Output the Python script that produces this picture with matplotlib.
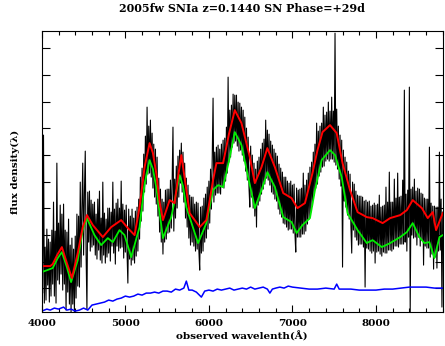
import matplotlib
matplotlib.use('Agg')
import matplotlib.pyplot as plt
import matplotlib.ticker as ticker
import numpy as np

# observed spectrum, 10 A steps from 4000 to 8800 (one row = 100 A)
obs_wave = np.arange(4000, 8801, 10)
obs_flux = [
    7.6, 1.9, 17.7, 0.9, 6.5, 1.2, 8.3, 2.7, 7.3, 1.0,
    7.0, 1.6, 8.2, 2.8, 11.0, 1.6, 8.1, 0.9, 14.9, 3.2,
    8.9, 2.8, 10.7, 3.8, 9.8, 2.2, 10.8, 2.8, 8.2, 0.2,
    8.0, 2.0, 9.3, 0.8, 6.7, 0.0, 7.4, 0.8, 6.3, 0.0,
    7.6, 1.4, 9.8, 2.6, 9.6, 2.5, 13.0, 4.5, 10.5, 14.9,
    5.7, 11.9, 16.1, 5.7, 0.3, 12.0, 7.0, 12.1, 6.1, 11.2,
    6.5, 10.8, 6.7, 11.0, 5.7, 9.8, 5.3, 11.3, 6.2, 12.1,
    5.2, 9.4, 4.9, 13.0, 5.7, 9.9, 4.9, 9.3, 5.5, 10.4,
    5.9, 10.4, 5.1, 10.0, 6.6, 13.0, 5.9, 10.3, 4.8, 10.9,
    6.6, 11.3, 6.1, 10.4, 6.4, 13.1, 6.5, 10.8, 5.4, 10.2,
    6.0, 10.7, 6.0, 2.9, 10.3, 5.3, 9.6, 4.7, 10.3, 5.2,
    9.4, 4.9, 10.1, 5.6, 10.5, 6.1, 11.3, 7.3, 13.5, 9.1,
    14.4, 10.1, 15.8, 12.0, 17.6, 12.8, 20.5, 13.8, 18.6, 13.9,
    19.2, 13.5, 17.9, 12.4, 16.8, 11.5, 16.3, 10.8, 15.5, 9.6,
    13.4, 8.0, 12.3, 7.0, 11.3, 5.8, 11.0, 7.0, 12.2, 7.3,
    12.3, 7.9, 12.3, 8.0, 13.2, 8.4, 13.0, 18.5, 8.1, 13.3,
    9.4, 14.6, 10.4, 15.6, 11.5, 16.2, 12.9, 16.9, 12.0, 16.0,
    11.0, 14.9, 9.4, 13.4, 8.5, 12.7, 7.4, 11.7, 6.7, 11.5,
    7.0, 11.5, 6.6, 10.8, 6.1, 11.0, 6.3, 10.9, 6.2, 4.2,
    10.5, 5.9, 10.6, 6.1, 11.4, 7.0, 11.8, 7.4, 12.5, 8.3,
    13.1, 8.9, 14.3, 10.3, 15.4, 21.4, 11.0, 16.0, 11.7, 16.5,
    11.9, 16.7, 11.9, 16.3, 11.8, 16.8, 12.5, 17.2, 12.4, 17.4,
    13.1, 18.5, 13.9, 23.5, 15.0, 20.2, 15.5, 20.7, 16.5, 21.8,
    16.9, 21.7, 17.1, 21.7, 16.6, 21.0, 16.1, 20.9, 16.2, 20.5,
    15.7, 20.2, 15.1, 19.5, 14.1, 18.4, 13.2, 17.5, 12.5, 10.5,
    16.6, 11.5, 15.7, 10.4, 14.9, 9.6, 14.3, 8.5, 15.1, 10.7,
    15.5, 11.1, 16.3, 11.8, 16.9, 12.3, 17.3, 12.8, 19.2, 13.4,
    18.2, 13.2, 17.8, 12.7, 17.1, 12.0, 16.7, 11.8, 16.3, 11.3,
    15.9, 11.1, 15.6, 10.3, 14.8, 9.8, 14.4, 9.5, 14.0, 8.9,
    13.5, 8.8, 13.5, 8.5, 13.1, 8.2, 12.9, 8.3, 13.1, 8.3,
    12.7, 7.9, 12.8, 7.9, 6.0, 12.4, 7.5, 12.2, 7.5, 12.3,
    7.5, 12.4, 7.8, 13.9, 7.8, 12.7, 8.1, 13.2, 8.8, 13.9,
    9.3, 14.5, 10.0, 15.0, 10.6, 16.0, 11.7, 16.8, 12.4, 18.9,
    12.8, 18.1, 13.6, 18.6, 14.0, 18.9, 14.5, 20.5, 14.6, 19.7,
    15.1, 20.0, 15.3, 21.0, 15.1, 20.1, 15.3, 21.5, 15.3, 20.1,
    15.0, 27.9, 14.7, 20.3, 14.3, 18.6, 13.3, 17.7, 12.6, 17.2,
    4.5, 16.2, 11.1, 15.5, 10.5, 15.0, 9.7, 14.1, 9.3, 13.8,
    8.7, 5.9, 13.0, 8.2, 12.8, 7.5, 12.1, 7.2, 11.7, 6.7,
    11.6, 6.8, 11.6, 6.8, 11.5, 6.5, 11.1, 2.5, 11.2, 6.4,
    11.0, 6.3, 11.1, 6.1, 10.6, 5.9, 10.7, 6.1, 10.9, 4.9,
    10.7, 6.0, 10.8, 6.1, 11.7, 5.8, 10.5, 5.6, 10.6, 6.0,
    10.7, 5.9, 12.5, 5.9, 11.0, 6.2, 14.0, 6.2, 11.0, 6.1,
    11.0, 6.3, 13.3, 6.6, 11.4, 6.6, 13.9, 6.5, 11.5, 6.8,
    11.6, 6.8, 13.2, 6.8, 22.2, 7.0, 11.8, 6.1, 12.2, 7.5,
    22.5, 0.0, 12.3, 7.7, 12.5, 7.4, 13.3, 7.5, 12.1, 6.7,
    12.4, 7.5, 12.3, 6.6, 11.9, 7.2, 11.8, 4.7, 11.4, 6.6,
    11.3, 6.4, 11.3, 6.4, 16.5, 5.5, 10.9, 5.8, 10.6, 4.3,
    10.6, 5.5, 10.5, 4.4, 10.5, 6.1, 16.0, 6.2, 11.3, 0.5,
    10.0,
]

# template fit (red)
fit_wave = [4000, 4100, 4130, 4190, 4240, 4300, 4360, 4430, 4490, 4540, 4610,
            4730, 4830, 4950, 5030, 5110, 5170, 5230, 5290, 5330, 5370, 5410,
            5450, 5530, 5590, 5630, 5670, 5720, 5770, 5890, 5970, 6050, 6090,
            6170, 6240, 6310, 6390, 6490, 6550, 6630, 6700, 6790, 6890, 6990,
            7060, 7150, 7240, 7300, 7360, 7450, 7530, 7600, 7690, 7780, 7890,
            7960, 8080, 8170, 8290, 8370, 8440, 8550, 8620, 8680, 8720, 8800]
fit_flux = [4.6, 4.6, 4.8, 5.8, 6.5, 4.9, 3.4, 5.9, 8.5, 9.7, 8.7,
            7.5, 8.5, 9.2, 8.4, 7.7, 10.5, 14.5, 16.9, 15.9, 13.9, 11.0,
            9.2, 11.2, 10.9, 13.5, 15.7, 12.8, 9.9, 8.5, 9.2, 13.2, 14.9,
            14.9, 17.8, 20.2, 18.9, 15.5, 12.9, 14.5, 16.4, 14.5, 11.9, 11.4,
            10.4, 10.9, 13.9, 16.2, 18.0, 18.7, 17.9, 14.9, 12.2, 10.0, 9.5,
            9.4, 8.9, 9.4, 9.7, 10.2, 11.2, 10.4, 9.4, 10.0, 8.2, 9.9]

# template before host correction (green)
tmpl_wave = [4000, 4130, 4190, 4240, 4300, 4350, 4430, 4490, 4540, 4630, 4710,
             4790, 4850, 4930, 4990, 5070, 5170, 5230, 5290, 5330, 5370, 5450,
             5550, 5610, 5650, 5690, 5730, 5870, 5970, 6050, 6110, 6170, 6250,
             6310, 6390, 6470, 6550, 6630, 6700, 6790, 6890, 6990, 7050, 7120,
             7210, 7270, 7350, 7450, 7510, 7590, 7660, 7780, 7890, 7960, 8070,
             8170, 8290, 8370, 8440, 8520, 8580, 8640, 8700, 8760, 8800]
tmpl_flux = [4.0, 4.4, 5.4, 6.0, 4.5, 3.0, 5.2, 8.2, 9.4, 7.7, 6.7,
             7.4, 7.0, 8.2, 7.7, 5.5, 8.5, 12.8, 15.2, 14.3, 12.5, 7.4,
             9.5, 12.0, 13.7, 12.6, 10.5, 6.9, 8.9, 12.2, 12.7, 12.5, 15.5,
             18.0, 16.7, 13.5, 10.4, 12.2, 14.0, 12.5, 9.5, 9.0, 7.9, 8.7,
             9.4, 12.2, 15.2, 16.2, 15.7, 13.5, 9.9, 8.2, 6.9, 7.2, 6.5,
             6.9, 7.5, 8.0, 8.9, 7.5, 6.9, 7.0, 5.4, 7.5, 7.7]

# error spectrum (blue)
err_wave = [4000, 4060, 4100, 4150, 4200, 4260, 4300, 4350, 4400, 4450, 4500,
            4550, 4600, 4650, 4700, 4750, 4800, 4850, 4900, 4950, 5000, 5050,
            5100, 5150, 5200, 5250, 5300, 5350, 5400, 5450, 5500, 5550, 5600,
            5650, 5700, 5730, 5760, 5800, 5850, 5910, 5950, 6000, 6050, 6100,
            6150, 6200, 6250, 6300, 6350, 6400, 6450, 6500, 6550, 6600, 6650,
            6700, 6730, 6760, 6800, 6850, 6900, 6950, 7000, 7100, 7200, 7300,
            7400, 7500, 7530, 7560, 7600, 7700, 7800, 7900, 8000, 8100, 8200,
            8300, 8400, 8500, 8600, 8700, 8800]
err_flux = [0.1, 0.3, 0.2, 0.4, 0.3, 0.5, 0.2, 0.3, 0.1, 0.2, 0.4,
            0.2, 0.7, 0.8, 0.9, 1.0, 1.2, 1.1, 1.3, 1.4, 1.6, 1.5,
            1.6, 1.8, 1.7, 1.9, 1.9, 2.0, 1.9, 2.1, 2.1, 2.0, 2.3,
            2.2, 2.4, 3.1, 2.2, 2.2, 2.0, 1.5, 2.1, 2.2, 2.1, 2.3,
            2.2, 2.3, 2.4, 2.2, 2.3, 2.4, 2.3, 2.5, 2.3, 2.4, 2.5,
            2.3, 1.9, 2.3, 2.4, 2.5, 2.4, 2.6, 2.5, 2.4, 2.3, 2.3,
            2.4, 2.3, 2.8, 2.3, 2.3, 2.3, 2.2, 2.2, 2.2, 2.3, 2.3,
            2.4, 2.5, 2.5, 2.5, 2.4, 2.4]

title = '2005fw SNIa z=0.1440 SN Phase=+29d'

plt.rcParams['font.family'] = ['DejaVu Serif']
plt.rcParams['font.weight'] = 'bold'

fig = plt.figure(figsize=(4.45, 3.46), dpi=100)
ax = fig.add_axes([0.094, 0.098, 0.901, 0.812])

ax.plot(obs_wave, obs_flux, color='black', lw=0.8)
ax.plot(tmpl_wave, tmpl_flux, color='#00ee00', lw=1.3)
ax.plot(fit_wave, fit_flux, color='red', lw=1.4)
ax.plot(err_wave, err_flux, color='blue', lw=1.1)

ax.set_xlim(4000, 8800)
ax.set_ylim(0, 28.1)
ax.xaxis.set_major_locator(ticker.MultipleLocator(1000))
ax.xaxis.set_minor_locator(ticker.MultipleLocator(200))
ax.set_yticks(np.arange(26.4, 1, -2.67))
ax.set_yticklabels([])
ax.tick_params(which='both', direction='in', top=True, right=True, width=0.8)
ax.tick_params(which='major', axis='x', length=5, labelsize=7.5, pad=5)
ax.tick_params(which='minor', axis='x', length=3)
ax.tick_params(which='major', axis='y', length=6)
for lab in ax.get_xticklabels():
    lab.set_fontweight('bold')
for s in ax.spines.values():
    s.set_linewidth(0.8)

ax.set_xlabel('observed wavelenth(Å)', fontsize=7.5, fontweight='bold', labelpad=2)
ax.set_ylabel('flux density(λ)', fontsize=7.5, fontweight='bold', labelpad=12)
ax.set_title(title, fontsize=8, fontweight='bold', pad=14)

fig.savefig('out.png', dpi=100)
